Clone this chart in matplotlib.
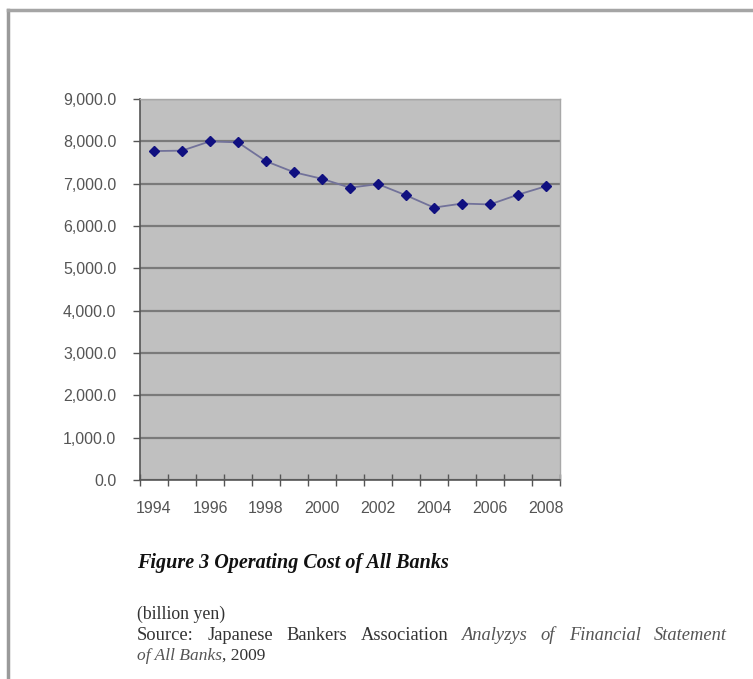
import numpy as np
import matplotlib.pyplot as plt
from matplotlib.lines import Line2D
from matplotlib.ticker import FuncFormatter

# Operating cost of all banks, billion yen
years = [1994, 1995, 1996, 1997, 1998, 1999, 2000, 2001,
         2002, 2003, 2004, 2005, 2006, 2007, 2008]
cost = [7770, 7780, 8000, 7975, 7530, 7270, 7115, 6905,
        6990, 6725, 6435, 6530, 6510, 6740, 6940]
y_ticks = [0, 1000, 2000, 3000, 4000, 5000, 6000, 7000, 8000, 9000]

# source line, (word, italic)
source_words = [('Source:', False), ('Japanese', False), ('Bankers', False),
                ('Association', False), ('Analyzys', True), ('of', True),
                ('Financial', True), ('Statement', True)]

sans = 'Liberation Sans'
serif = 'Liberation Serif'
W, H = 753, 679

fig = plt.figure(figsize=(W / 100, H / 100), dpi=100)
fig.patch.set_facecolor('white')

ax = fig.add_axes([140/W, 1 - 480/H, 420/W, 381/H])
ax.set_facecolor('#c0c0c0')

idx = np.arange(len(years))
ax.plot(idx, cost, color='#72729a', lw=1.3, zorder=3)
ax.plot(idx, cost, ls='none', marker='D', ms=5.5, color='#101080',
        mec='#101080', zorder=4)

ax.set_xlim(-0.5, len(years) - 0.5)
ax.set_ylim(0, 9000)

# horizontal gridlines
ax.set_yticks(y_ticks)
ax.yaxis.set_major_formatter(FuncFormatter(lambda v, p: '{:,.1f}'.format(v)))
ax.grid(axis='y', color='#7a7a7a', lw=1.6, zorder=1)
ax.set_axisbelow(True)

# category ticks on boundaries, labels on every other year
ax.set_xticks(np.arange(-0.5, len(years), 1.0))
ax.set_xticklabels([])
ax.set_xticks(idx[::2], minor=True)
ax.set_xticklabels([str(y) for y in years[::2]], minor=True)
ax.tick_params(axis='x', which='major', direction='inout', length=8,
               width=1, color='#555555')
ax.tick_params(axis='x', which='minor', length=0, pad=15,
               labelsize=11.5, labelcolor='#555555')
ax.tick_params(axis='y', direction='out', length=5, width=1,
               color='#555555', pad=12, labelsize=11.5, labelcolor='#555555')
for lab in ax.get_xticklabels(minor=True) + ax.get_yticklabels():
    lab.set_fontfamily(sans)

for side in ['top', 'right']:
    ax.spines[side].set_color('#a8a8a8')
    ax.spines[side].set_linewidth(1)
for side in ['left', 'bottom']:
    ax.spines[side].set_color('#555555')
    ax.spines[side].set_linewidth(1.2)

# page frame
fig.add_artist(Line2D([8/W, 8/W], [0, 1 - 10/H], color='#9a9a9a',
                      lw=2.5, transform=fig.transFigure))
fig.add_artist(Line2D([8/W, 1], [1 - 10/H, 1 - 10/H], color='#a5a5a5',
                      lw=2.5, transform=fig.transFigure))

# caption
fig.text(137/W, 1 - 563/H, 'Figure 3 Operating Cost of All Banks',
         family=serif, style='italic', weight='bold', fontsize=14.5,
         color='#111111', va='center')
fig.text(137/W, 1 - 614/H, '(billion yen)', family=serif, fontsize=12.8,
         color='#333333', va='center')

# justified source line
x0, x1 = 137, 727
words = []
for w, it in source_words:
    words.append(fig.text(0, 1 - 635/H, w, family=serif, fontsize=13.3,
                          style='italic' if it else 'normal',
                          color='#555555' if it else '#333333', va='center'))
renderer = fig.canvas.get_renderer()
widths = [t.get_window_extent(renderer).width for t in words]
gap = (x1 - x0 - sum(widths)) / (len(words) - 1)
x = x0
for t, wd in zip(words, widths):
    t.set_x(x / W)
    x += wd + gap

banks = fig.text(137/W, 1 - 656/H, 'of All Banks', family=serif,
                 style='italic', fontsize=12.5, color='#555555', va='center')
ax.annotate(', 2009', xy=(1, 0), xycoords=banks, va='bottom', ha='left',
            family=serif, fontsize=12.5, color='#333333',
            annotation_clip=False)

fig.savefig('out.png', dpi=100)
